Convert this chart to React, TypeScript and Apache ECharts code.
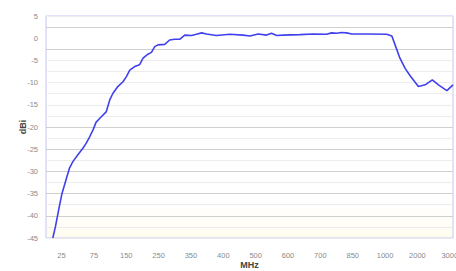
import React, { useEffect, useRef } from "react";
import * as echarts from "echarts";

// x tick labels (MHz), evenly spaced on the chart
const freqLabels = ["25", "75", "150", "250", "350", "400", "500", "600", "700", "850", "1000", "2000", "3000"];
const tickPositions = [0, 1, 2, 3, 4, 5, 6, 7, 8, 9, 10, 11, 12];

// curve: position along the label scale (0 = "25", 12 = "3000") and gain in dBi
const xPos = [
  -0.27, -0.19, -0.09, 0.01, 0.15, 0.25, 0.35, 0.5, 0.66, 0.76, 0.87, 0.97, 1.07, 1.23, 1.38, 1.49, 1.59, 1.74,
  1.9, 2.0, 2.11, 2.26, 2.41, 2.52, 2.67, 2.78, 2.88, 2.98, 3.19, 3.34, 3.5, 3.65, 3.81, 4.02, 4.17, 4.33, 4.48,
  4.79, 5.2, 5.61, 5.82, 6.08, 6.34, 6.49, 6.65, 6.85, 7.37, 7.78, 8.19, 8.35, 8.5, 8.66, 8.81, 8.97, 9.43, 10.05,
  10.21, 10.31, 10.46, 10.62, 10.77, 11.03, 11.24, 11.46, 11.65, 11.91, 12.1,
];
const gainDbi = [
  -45.0, -42.5, -38.7, -35.1, -31.6, -29.2, -27.8, -26.3, -24.8, -23.7, -22.2, -20.7, -18.9, -17.7, -16.6, -13.9,
  -12.4, -10.9, -9.8, -8.7, -7.2, -6.4, -6.0, -4.5, -3.6, -3.2, -1.9, -1.5, -1.4, -0.4, -0.25, -0.25, 0.7, 0.6, 0.9,
  1.2, 0.95, 0.6, 0.9, 0.7, 0.5, 0.95, 0.7, 1.1, 0.6, 0.7, 0.8, 0.95, 0.9, 1.2, 1.1, 1.3, 1.2, 0.95, 0.95, 0.9, 0.5,
  -1.5, -4.5, -6.8, -8.4, -10.9, -10.5, -9.4, -10.5, -11.8, -10.5,
];

// grid line colours from -45 up to 5 in steps of 2.5
const DARK = "#cfcfcf";
const FAINT = "#ececec";
const gridColors = [
  FAINT, FAINT, DARK, FAINT, DARK, FAINT, DARK, FAINT, DARK, FAINT, DARK, FAINT, FAINT, FAINT, FAINT, FAINT, FAINT,
  DARK, "rgba(0,0,0,0)", DARK, FAINT,
];

const FONT = "'Liberation Sans', Arial, sans-serif";

export default function App() {
  const ref = useRef<HTMLDivElement>(null);

  useEffect(() => {
    if (!ref.current) return;
    const chart = echarts.init(ref.current, undefined, { renderer: "svg" });
    const data = xPos.map((x, i) => [x, gainDbi[i]]);
    chart.setOption({
      animation: false,
      backgroundColor: "#ffffff",
      grid: {
        left: 46,
        right: 3,
        top: 16,
        bottom: 33,
        outerBoundsMode: "none",
        containLabel: false,
        show: true,
        borderColor: "#c4c4f6",
        borderWidth: 1,
        backgroundColor: {
          type: "linear",
          x: 0,
          y: 0,
          x2: 0,
          y2: 1,
          colorStops: [
            { offset: 0, color: "#ffffff" },
            { offset: 0.85, color: "#ffffff" },
            { offset: 1, color: "#fffcef" },
          ],
        },
      },
      xAxis: {
        type: "value",
        min: -0.48,
        max: 12.1,
        name: "MHz",
        nameLocation: "middle",
        nameGap: 22,
        nameMoveOverlap: false,
        nameTextStyle: { fontFamily: FONT, fontSize: 9, fontWeight: "bold", color: "#444" },
        axisLine: { show: false },
        axisTick: { show: false },
        splitLine: { show: false },
        axisLabel: {
          customValues: tickPositions,
          formatter: (v: number) => freqLabels[Math.round(v)] ?? "",
          fontFamily: FONT,
          fontSize: 7.5,
          color: "#8a8a8a",
          margin: 13,
          hideOverlap: false,
        },
      },
      yAxis: {
        type: "value",
        min: -45,
        max: 5,
        interval: 2.5,
        name: "dBi",
        nameLocation: "middle",
        nameGap: 19,
        nameMoveOverlap: false,
        nameRotate: 90,
        nameTextStyle: { fontFamily: FONT, fontSize: 9, fontWeight: "bold", color: "#444" },
        axisLine: { show: false },
        axisTick: { show: false },
        splitLine: { show: true, lineStyle: { color: gridColors, width: 1 } },
        axisLabel: {
          formatter: (v: number) => (Math.abs(v % 5) < 1e-9 ? String(v) : ""),
          fontFamily: FONT,
          fontSize: 7.5,
          color: "#8a8a8a",
          margin: 8,
        },
      },
      series: [
        {
          type: "line",
          data,
          showSymbol: false,
          smooth: false,
          lineStyle: { color: "#4040ee", width: 1.6 },
          clip: true,
        },
      ],
    });
    return () => chart.dispose();
  }, []);

  return <div ref={ref} style={{ position: "fixed", left: 0, top: 0, width: 456, height: 271 }} />;
}
